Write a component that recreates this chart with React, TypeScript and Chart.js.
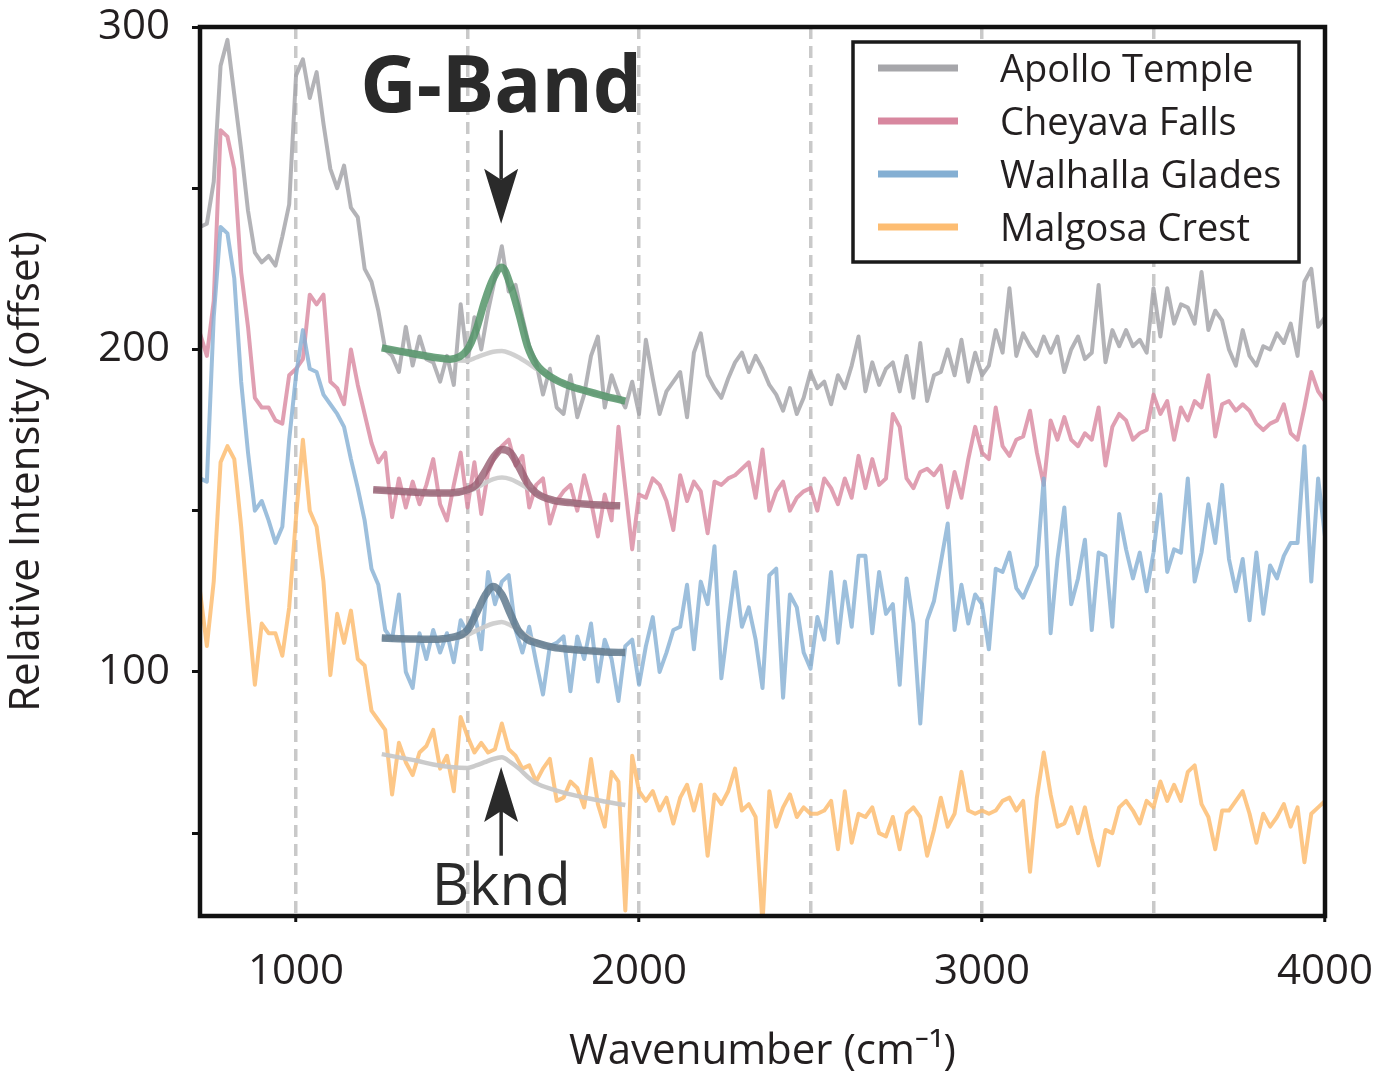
import { useEffect, useRef } from "react"
import { Chart, registerables } from "chart.js"

Chart.register(...registerables)

const FONT = '"Open Sans", "Noto Sans", sans-serif'
const INK = "#231f20"

// raw spectra, one value every 20 cm-1 from 720 to 4000
const WN_START = 720
const WN_STEP = 20

const apolloTemple = [
  238, 239, 252, 288, 296, 279, 262, 243, 230, 227, // 720
  229, 226, 235, 245, 285, 290, 278, 286, 270, 256, // 920
  250, 257, 244, 241, 225, 221, 212, 200, 198, 193, // 1120
  207, 195, 204, 197, 196, 190, 198, 189, 214, 196, // 1320
  210, 200, 212, 222, 232, 218, 220, 210, 201, 196, // 1520
  186, 194, 182, 180, 192, 179, 186, 198, 204, 182, // 1720
  192, 186, 182, 190, 180, 203, 191, 180, 187, 190, // 1920
  193, 179, 199, 205, 192, 188, 185, 191, 196, 199, // 2120
  193, 198, 194, 189, 186, 181, 188, 180, 185, 193, // 2320
  188, 190, 183, 192, 188, 195, 204, 187, 196, 189, // 2520
  194, 196, 187, 198, 185, 202, 184, 192, 193, 200, // 2720
  192, 203, 190, 199, 192, 195, 206, 199, 219, 198, // 2920
  205, 201, 198, 204, 199, 204, 193, 200, 204, 197, // 3120
  199, 220, 196, 206, 201, 206, 201, 203, 199, 219, // 3320
  204, 219, 208, 214, 213, 208, 224, 206, 212, 209, // 3520
  200, 195, 206, 198, 195, 201, 200, 205, 202, 208, // 3720
  198, 221, 225, 207, 210, // 3920
]

const cheyavaFalls = [
  205, 198, 215, 268, 266, 256, 224, 207, 185, 182,
  182, 178, 177, 192, 194, 197, 217, 214, 217, 190,
  188, 183, 200, 189, 180, 171, 165, 168, 148, 160,
  151, 159, 152, 158, 166, 152, 147, 158, 168, 151,
  165, 149, 162, 167, 170, 172, 164, 167, 151, 158,
  160, 146, 153, 156, 158, 150, 161, 153, 142, 155,
  147, 176, 157, 138, 155, 154, 160, 158, 153, 144,
  161, 153, 159, 156, 143, 159, 158, 160, 161, 163,
  165, 154, 169, 150, 156, 159, 150, 154, 156, 157,
  150, 160, 157, 152, 160, 154, 167, 157, 166, 158,
  160, 180, 176, 160, 157, 162, 163, 161, 164, 151,
  162, 154, 166, 176, 168, 166, 182, 170, 167, 172,
  173, 181, 168, 158, 178, 172, 179, 172, 170, 174,
  172, 182, 164, 176, 180, 178, 172, 174, 175, 186,
  180, 184, 172, 182, 178, 184, 182, 192, 173, 183,
  184, 181, 183, 181, 177, 175, 177, 178, 183, 174,
  172, 182, 193, 187, 184,
]

const walhallaGlades = [
  160, 159, 210, 238, 236, 222, 190, 168, 150, 153,
  147, 140, 145, 172, 192, 206, 194, 193, 186, 183,
  180, 176, 166, 157, 147, 132, 127, 113, 110, 124,
  100, 95, 112, 104, 113, 106, 112, 103, 116, 112,
  119, 107, 131, 121, 128, 130, 113, 106, 114, 103,
  93, 108, 109, 111, 94, 111, 104, 115, 97, 110,
  104, 91, 108, 110, 96, 108, 117, 100, 106, 113,
  114, 127, 107, 128, 121, 139, 98, 115, 131, 114,
  120, 110, 95, 130, 132, 92, 124, 120, 106, 101,
  117, 110, 131, 109, 128, 114, 136, 136, 112, 131,
  118, 121, 96, 129, 115, 84, 116, 122, 134, 146,
  113, 127, 115, 124, 121, 107, 132, 131, 137, 126,
  123, 128, 133, 160, 112, 135, 151, 121, 129, 141,
  113, 137, 136, 114, 149, 138, 129, 137, 125, 137,
  155, 131, 138, 137, 160, 128, 137, 152, 140, 158,
  135, 125, 135, 116, 137, 118, 133, 129, 136, 140,
  140, 170, 128, 160, 142,
]

const malgosaCrest = [
  125, 108, 128, 165, 170, 166, 145, 119, 96, 115,
  112, 112, 105, 120, 148, 172, 150, 145, 128, 99,
  118, 109, 119, 104, 102, 88, 85, 82, 62, 78,
  72, 68, 75, 77, 82, 70, 74, 63, 86, 80,
  75, 78, 75, 76, 84, 76, 74, 70, 71, 66,
  70, 73, 60, 61, 66, 64, 58, 73, 59, 52,
  69, 66, 26, 74, 63, 60, 63, 57, 61, 53,
  61, 65, 57, 65, 43, 62, 59, 63, 70, 57,
  59, 55, 22, 63, 52, 58, 62, 55, 58, 56,
  56, 57, 60, 45, 63, 47, 56, 55, 58, 50,
  49, 55, 45, 56, 58, 55, 43, 51, 61, 52,
  56, 69, 57, 56, 57, 56, 57, 60, 61, 57,
  60, 38, 61, 75, 62, 52, 53, 58, 50, 58,
  48, 40, 51, 50, 58, 60, 57, 53, 60, 58,
  66, 60, 65, 60, 69, 71, 59, 55, 45, 57,
  57, 60, 63, 56, 47, 56, 52, 55, 59, 52,
  58, 41, 56, 58, 60,
]

// G-band fits (peak + background) over the 1250-1960 window
const fitWn = [1250, 1300, 1350, 1400, 1450, 1500, 1525, 1550, 1575, 1600, 1625, 1650, 1675, 1700, 1750, 1800, 1850, 1900, 1960]
const cheyavaFitWn = [1225, 1300, 1350, 1400, 1450, 1500, 1525, 1550, 1575, 1600, 1625, 1650, 1675, 1700, 1750, 1800, 1850, 1900, 1945]

const apolloFit = [200.5, 199.5, 198.5, 197.6, 197, 200, 206, 215, 222, 225.5, 220, 211, 201, 195.5, 191, 188.6, 187, 185.5, 184]
const apolloBknd = [200.5, 199.5, 198.5, 197.6, 196.8, 196.5, 197.5, 198.5, 199.3, 199.5, 198.8, 197.5, 195.8, 194, 191, 188.6, 187, 185.5, 184]
const cheyavaFit = [156.5, 156, 155.7, 155.5, 155.5, 156.5, 158, 162, 166.5, 169, 168, 163.5, 158.5, 155.5, 153.2, 152.5, 152, 151.7, 151.5]
const cheyavaBknd = [156.5, 156, 155.7, 155.5, 155.5, 156, 157, 158.5, 159.8, 160.3, 159.8, 158.5, 157, 155.5, 153.2, 152.5, 152, 151.7, 151.5]
const walhallaFit = [110.5, 110.3, 110.2, 110.1, 110.6, 113, 118, 123.5, 126.5, 124, 118, 112.5, 110, 109, 107.6, 107, 106.6, 106.2, 106]
const walhallaBknd = [110.5, 110.3, 110.2, 110.1, 110.3, 111.5, 112.8, 114, 115, 115.5, 114.5, 113, 111, 109.5, 107.6, 107, 106.6, 106.2, 106]
const malgosaBknd = [74.5, 73.5, 72.5, 71.3, 70.5, 70.2, 71, 72, 73, 73.5, 72, 70, 67.5, 65.5, 63.5, 62, 60.8, 59.8, 58.7]

const seriesNames = ["Apollo Temple", "Cheyava Falls", "Walhalla Glades", "Malgosa Crest"]
const seriesColors = ["#a6a6aa", "#d8879f", "#84afd3", "#fdbd72"]
const lineColors = ["rgba(166,166,170,0.85)", "rgba(216,135,159,0.8)", "rgba(132,175,211,0.8)", "rgba(253,189,114,0.85)"]

const xTicks = [1000, 1500, 2000, 2500, 3000, 3500, 4000]
const xLabels = [1000, 2000, 3000, 4000]
const yTicks = [50, 100, 150, 200, 250, 300]
const yLabels = [100, 200, 300]

// annotation anchors, in data units
const G_BAND_WN = 1598
const G_LABEL_Y = 273.5
const G_ARROW = [268, 239]
const BKND_LABEL_Y = 27.8
const BKND_ARROW = [43, 70.5]

const toPoints = (values: number[]) => values.map((y, i) => ({ x: WN_START + i * WN_STEP, y }))
const pair = (xs: number[], ys: number[]) => ys.map((y, i) => ({ x: xs[i], y }))

function drawArrow(ctx: CanvasRenderingContext2D, x: number, yFrom: number, yTo: number) {
  const dir = Math.sign(yTo - yFrom)
  const headLen = 55
  const headHalf = 17
  const notch = 11
  ctx.beginPath()
  ctx.lineWidth = 3.5
  ctx.moveTo(x, yFrom)
  ctx.lineTo(x, yTo - dir * (headLen - notch))
  ctx.stroke()
  ctx.beginPath()
  ctx.moveTo(x, yTo)
  ctx.lineTo(x - headHalf, yTo - dir * headLen)
  ctx.lineTo(x, yTo - dir * (headLen - notch))
  ctx.lineTo(x + headHalf, yTo - dir * headLen)
  ctx.closePath()
  ctx.fill()
}

const overlayPlugin = {
  id: "overlay",
  afterDraw(chart: any) {
    const { ctx, chartArea: a, scales } = chart
    const xs = scales.x
    const ys = scales.y
    ctx.save()

    // frame
    ctx.strokeStyle = "#111"
    ctx.lineWidth = 4.5
    ctx.strokeRect(a.left, a.top, a.right - a.left, a.bottom - a.top)

    // annotations
    const gx = xs.getPixelForValue(G_BAND_WN)
    ctx.fillStyle = "#2a2a2a"
    ctx.strokeStyle = "#2a2a2a"
    ctx.textAlign = "center"
    ctx.textBaseline = "alphabetic"
    ctx.font = `bold 78px ${FONT}`
    ctx.fillText("G-Band", gx, ys.getPixelForValue(G_LABEL_Y))
    drawArrow(ctx, gx, ys.getPixelForValue(G_ARROW[0]), ys.getPixelForValue(G_ARROW[1]))
    drawArrow(ctx, gx, ys.getPixelForValue(BKND_ARROW[0]), ys.getPixelForValue(BKND_ARROW[1]))
    ctx.font = `58px ${FONT}`
    ctx.fillText("Bknd", gx, ys.getPixelForValue(BKND_LABEL_Y))

    // legend
    const bx = a.right - 472
    const by = a.top + 15
    ctx.fillStyle = "#fff"
    ctx.fillRect(bx, by, 446, 220)
    ctx.strokeStyle = "#1a1a1a"
    ctx.lineWidth = 3.5
    ctx.strokeRect(bx, by, 446, 220)
    ctx.textAlign = "left"
    ctx.font = `38px ${FONT}`
    seriesNames.forEach((name, i) => {
      const ry = by + 26 + i * 53
      ctx.fillStyle = seriesColors[i]
      ctx.fillRect(bx + 25, ry - 3.5, 80, 7)
      ctx.fillStyle = INK
      ctx.fillText(name, bx + 147, ry + 14)
    })

    ctx.restore()
  },
}

// keep tick labels from pushing the plot area inwards
const noEdgePadding = (scale: any) => {
  scale.paddingTop = 0
  scale.paddingBottom = 0
  scale.paddingLeft = 0
  scale.paddingRight = 0
}

export default function App() {
  const canvasRef = useRef<HTMLCanvasElement | null>(null)

  useEffect(() => {
    if (!canvasRef.current) return
    const raw = [apolloTemple, cheyavaFalls, walhallaGlades, malgosaCrest]

    const datasets: any[] = [
      { label: "Apollo fit", data: pair(fitWn, apolloFit), borderColor: "rgba(84,148,104,0.85)", borderWidth: 7.5, order: 1 },
      { label: "Cheyava fit", data: pair(cheyavaFitWn, cheyavaFit), borderColor: "rgba(150,92,112,0.8)", borderWidth: 7.5, order: 1 },
      { label: "Walhalla fit", data: pair(fitWn, walhallaFit), borderColor: "rgba(96,122,142,0.85)", borderWidth: 7.5, order: 1 },
      { label: "Apollo bknd", data: pair(fitWn, apolloBknd), borderColor: "rgba(205,205,205,0.95)", borderWidth: 4.5, order: 2 },
      { label: "Cheyava bknd", data: pair(cheyavaFitWn, cheyavaBknd), borderColor: "rgba(205,205,205,0.95)", borderWidth: 4.5, order: 2 },
      { label: "Walhalla bknd", data: pair(fitWn, walhallaBknd), borderColor: "rgba(205,205,205,0.95)", borderWidth: 4.5, order: 2 },
      { label: "Malgosa bknd", data: pair(fitWn, malgosaBknd), borderColor: "rgba(200,200,200,0.95)", borderWidth: 4.5, order: 2 },
    ].map((d) => ({ ...d, cubicInterpolationMode: "monotone", pointRadius: 0, borderCapStyle: "butt" }))

    raw.forEach((values, i) => {
      datasets.push({
        label: seriesNames[i],
        data: toPoints(values),
        borderColor: lineColors[i],
        borderWidth: 4,
        pointRadius: 0,
        tension: 0,
        borderJoinStyle: "round",
        order: 8 - i,
      })
    })

    const chart = new Chart(canvasRef.current, {
      type: "line",
      data: { datasets },
      options: {
        animation: false,
        responsive: true,
        maintainAspectRatio: false,
        layout: { padding: { top: 27, right: 51, bottom: 0, left: 0 } },
        plugins: { legend: { display: false }, tooltip: { enabled: false } },
        scales: {
          x: {
            type: "linear",
            min: 720,
            max: 4000,
            afterBuildTicks: (scale: any) => {
              scale.ticks = xTicks.map((value) => ({ value }))
            },
            afterFit: (scale: any) => {
              scale.height = 164
              noEdgePadding(scale)
            },
            border: { display: false, dash: [12, 7] },
            grid: {
              color: "#c9c9c9",
              lineWidth: 3.5,
              drawTicks: true,
              tickLength: 6,
              tickWidth: 3,
              tickColor: (c: any) => (xLabels.includes(c.tick?.value) ? "#111" : "rgba(0,0,0,0)"),
            },
            ticks: {
              autoSkip: false,
              maxRotation: 0,
              padding: 25,
              color: INK,
              font: { family: FONT, size: 42 },
              callback: (v: any) => (xLabels.includes(Number(v)) ? String(v) : ""),
            },
            title: {
              display: true,
              text: "Wavenumber (cm\u207B\u00B9)",
              color: INK,
              font: { family: FONT, size: 42 },
              padding: { top: 0, bottom: 3 },
            },
          },
          y: {
            type: "linear",
            min: 24.3,
            max: 300,
            afterBuildTicks: (scale: any) => {
              scale.ticks = yTicks.map((value) => ({ value }))
            },
            afterFit: (scale: any) => {
              scale.width = 200
              noEdgePadding(scale)
            },
            border: { display: false },
            grid: {
              drawOnChartArea: false,
              drawTicks: true,
              tickLength: 8,
              tickWidth: 3,
              tickColor: "#111",
            },
            ticks: {
              autoSkip: false,
              padding: 22,
              color: INK,
              font: { family: FONT, size: 42 },
              callback: (v: any) => (yLabels.includes(Number(v)) ? String(v) : ""),
            },
            title: {
              display: true,
              text: "Relative Intensity (offset)",
              color: INK,
              font: { family: FONT, size: 42 },
              padding: { top: 2, bottom: 0 },
            },
          },
        },
      },
      plugins: [overlayPlugin],
    })

    return () => {
      chart.destroy()
    }
  }, [])

  return (
    <div style={{ position: "fixed", left: 0, top: 0, width: 1376, height: 1080, background: "#fff" }}>
      <canvas ref={canvasRef} />
    </div>
  )
}
